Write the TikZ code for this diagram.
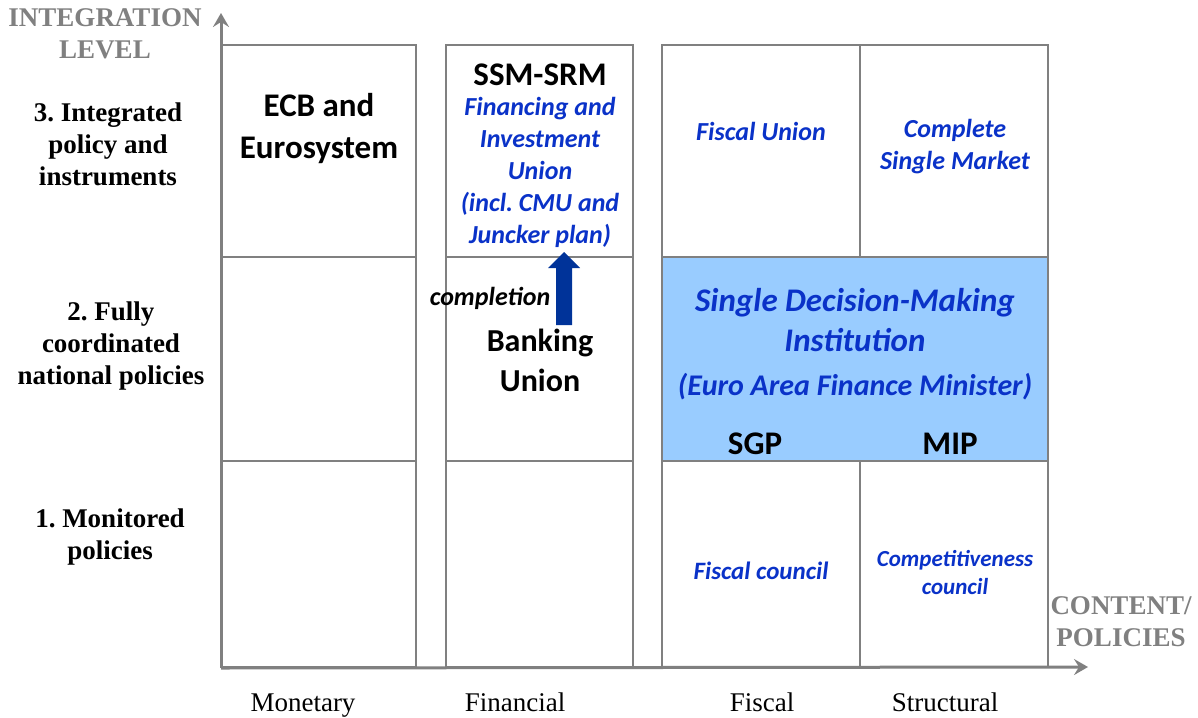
\documentclass[tikz,border=0pt]{standalone}
\usepackage{fontspec}
\setmainfont{Liberation Serif}
\newfontfamily\calib{Carlito}
\usetikzlibrary{arrows.meta}
\definecolor{gridgray}{RGB}{128,128,128}
\definecolor{txtblue}{RGB}{10,50,200}
\definecolor{boxblue}{RGB}{153,204,255}
\definecolor{arrblue}{RGB}{0,51,153}
\tikzset{
  cell/.style={draw=gridgray, line width=2pt},
  axis/.style={draw=gridgray, line width=3pt, -{Stealth[length=14pt,width=16pt,inset=5pt]}},
  lvl/.style={font=\fontsize{27}{32}\selectfont\bfseries, align=center, text=black},
  axlab/.style={font=\fontsize{27}{32}\selectfont\bfseries, align=center, text=gridgray},
  col/.style={font=\fontsize{27}{30}\selectfont, text=black, anchor=base},
  big/.style={font=\calib\fontsize{33}{42}\selectfont\bfseries, align=center, text=black},
  bl/.style={font=\calib\fontsize{26}{32}\selectfont\bfseries\itshape, align=center, text=txtblue},
}
\begin{document}
\frenchspacing
\begin{tikzpicture}[x=1pt,y=-1pt]
\useasboundingbox (0,0) rectangle (1198,717);
% blue box
\fill[boxblue] (662,257) rectangle (1048,461);
% grid
\draw[cell] (222,45) rectangle (416,667);
\draw[cell] (222,257) -- (416,257) (222,461) -- (416,461);
\draw[cell] (446,45) rectangle (633,667);
\draw[cell] (446,257) -- (633,257) (446,461) -- (633,461);
\draw[cell] (662,45) rectangle (1048,667);
\draw[cell] (662,257) -- (1048,257) (662,461) -- (1048,461);
\draw[cell] (860,45) -- (860,257) (860,461) -- (860,667);
% axes
\coordinate (o) at (221,668);
\coordinate (ytip) at (221,13);
\coordinate (xtip) at (1088,667);
\draw[axis] (o) -- (ytip);
\draw[axis] (o) -- (xtip);
% axis labels
\node[axlab] (ylab) at (105,34) {INTEGRATION\\LEVEL};
\node[axlab] (xlab) at (1121,622) {CONTENT/\\POLICIES};
\node[lvl] (l3) at (108,144) {3. Integrated\\policy and\\instruments};
\node[lvl] (l2) at (111,346) {2. Fully\\coordinated\\national policies};
\node[lvl] (l1) at (110,537) {1. Monitored\\policies};
\node[col] (cm) at (303,711) {Monetary};
\node[col] (cf) at (515,711) {Financial};
\node[col] (cfi) at (762,711) {Fiscal};
\node[col] (cs) at (945,711) {Structural};
% content
\node[big] (ecb) at (319,129) {ECB and\\Eurosystem};
\node[big] (ssm) at (540,75) {SSM-SRM};
\node[bl] (fiu) at (540,172) {Financing and\\Investment\\Union\\(incl. CMU and\\Juncker plan)};
\node[bl] (fu) at (761,131) {Fiscal Union};
\node[bl] (csm) at (955,147) {Complete\\Single Market};
\node[bl, font=\calib\fontsize{33}{40}\selectfont\bfseries\itshape] (sdm) at (855,320) {Single Decision-Making\\Institution};
\node[bl, font=\calib\fontsize{30}{32}\selectfont\bfseries\itshape] (eafm) at (855,387) {(Euro Area Finance Minister)};
\node[big] (sgp) at (755,444) {SGP};
\node[big] (mip) at (950,444) {MIP};
\node[big, font=\calib\fontsize{32}{40}\selectfont\bfseries] (bu) at (540,360) {Banking\\Union};
\node[font=\calib\fontsize{26}{28}\selectfont\bfseries\itshape] (compl) at (490,298) {completion};
\node[bl, font=\calib\fontsize{25}{28}\selectfont\bfseries\itshape] (fc) at (761,571) {Fiscal council};
\node[bl, font=\calib\fontsize{23}{28}\selectfont\bfseries\itshape] (cc) at (955,573) {Competitiveness\\council};
% completion arrow
\fill[arrblue] (556,325) -- (556,268) -- (548,268) -- (564,252) -- (580,268) -- (572,268) -- (572,325) -- cycle;
\end{tikzpicture}
\end{document}
